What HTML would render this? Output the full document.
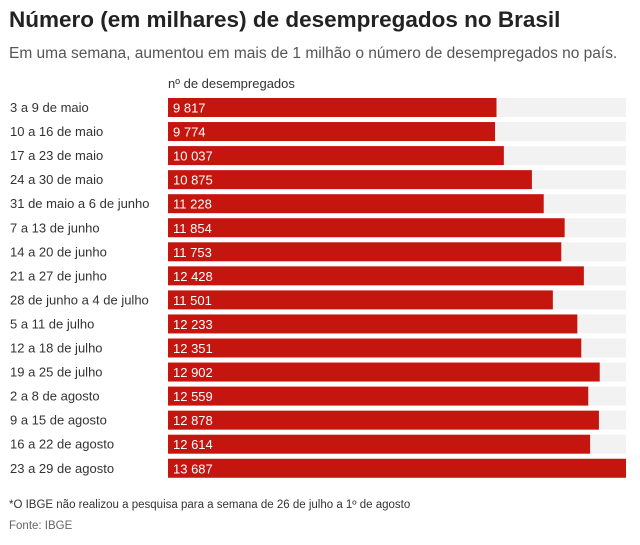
<!DOCTYPE html>
<html><head><meta charset="utf-8"><style>
body{margin:0;width:640px;height:545px;background:#fff;font-family:"Liberation Sans",sans-serif;position:relative;overflow:hidden}
.t{position:absolute;white-space:nowrap}
</style></head><body>
<div class="t" style="left:9px;top:7px;font-size:22.5px;font-weight:bold;color:#222">Número (em milhares) de desempregados no Brasil</div>
<div class="t" style="left:9px;top:45px;font-size:15.5px;color:#555">Em uma semana, aumentou em mais de 1 milhão o número de desempregados no país.</div>
<div class="t" style="left:168px;top:76px;font-size:13px;color:#333">nº de desempregados</div>
<svg id="chart" width="640" height="545" style="position:absolute;left:0;top:0"></svg>
<div class="t" style="left:9px;top:499px;font-size:11.5px;color:#333">*O IBGE não realizou a pesquisa para a semana de 26 de julho a 1º de agosto</div>
<div class="t" style="left:9px;top:520px;font-size:11.5px;color:#666">Fonte: IBGE</div>
<script>
const categories=["3 a 9 de maio","10 a 16 de maio","17 a 23 de maio","24 a 30 de maio","31 de maio a 6 de junho","7 a 13 de junho","14 a 20 de junho","21 a 27 de junho","28 de junho a 4 de julho","5 a 11 de julho","12 a 18 de julho","19 a 25 de julho","2 a 8 de agosto","9 a 15 de agosto","16 a 22 de agosto","23 a 29 de agosto"];
const values=[9817,9774,10037,10875,11228,11854,11753,12428,11501,12233,12351,12902,12559,12878,12614,13687];
const maxValue=13687;
const NS="http://www.w3.org/2000/svg";
const svg=document.getElementById('chart');
const x0=168,x1=626,y0=98,step=24.05,bh=19;
const xs=v=>x0+v/maxValue*(x1-x0);
const ys=i=>y0+i*step;
function fmt(v){return String(v).replace(/\B(?=(\d{3})+(?!\d))/g,' ');}
categories.forEach((c,i)=>{
  const y=ys(i);
  const tr=document.createElementNS(NS,'rect');
  
  
  tr.setAttribute('x',x0);tr.setAttribute('y',y);tr.setAttribute('width',x1-x0);tr.setAttribute('height',bh);tr.setAttribute('fill','#f2f2f2');
  svg.appendChild(tr);
  const r=document.createElementNS(NS,'rect');
  
  
  r.setAttribute('x',x0);r.setAttribute('y',y);r.setAttribute('width',xs(values[i])-x0);r.setAttribute('height',bh);r.setAttribute('fill','#c4160e');
  svg.appendChild(r);
  const l=document.createElementNS(NS,'text');
  
  
  l.setAttribute('x',10);l.setAttribute('y',y+14);l.setAttribute('font-size','13');l.setAttribute('fill','#333');
  l.textContent=c;svg.appendChild(l);
  const v=document.createElementNS(NS,'text');
  
  
  v.setAttribute('x',173);v.setAttribute('y',y+14.5);v.setAttribute('font-size','13');v.setAttribute('fill','#fff');
  v.textContent=fmt(values[i]);svg.appendChild(v);
});
</script>
</body></html>
